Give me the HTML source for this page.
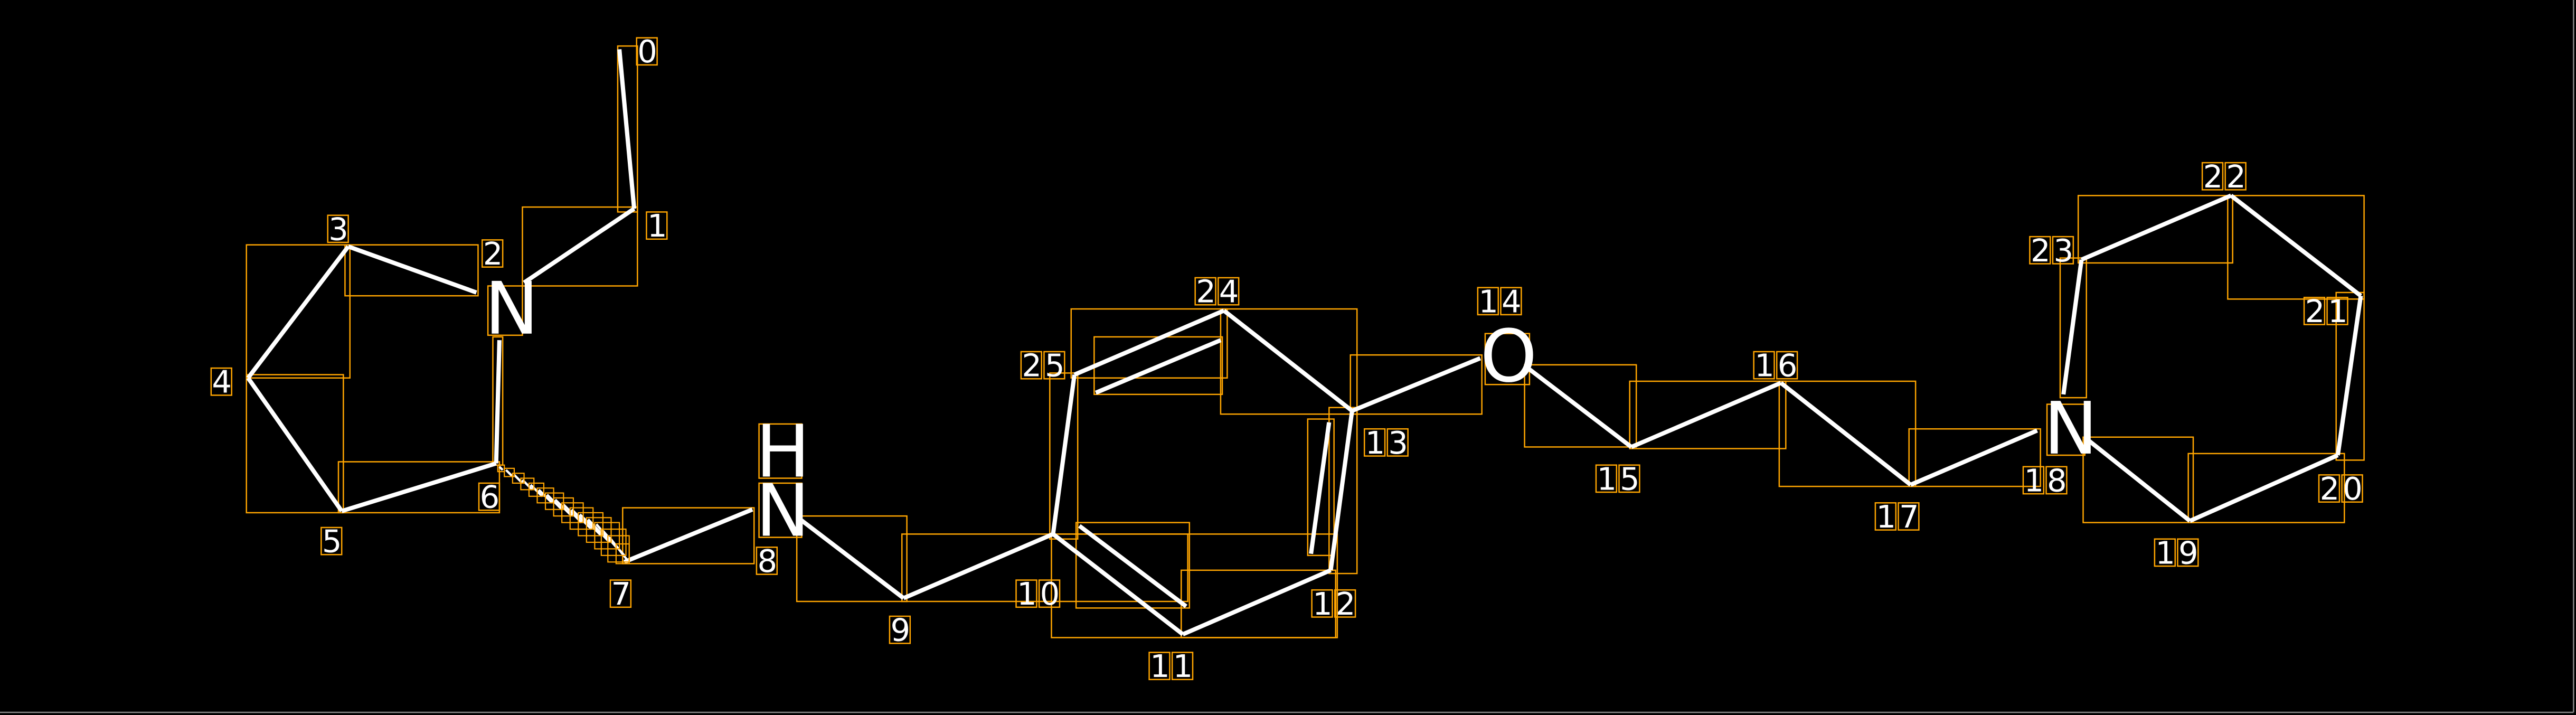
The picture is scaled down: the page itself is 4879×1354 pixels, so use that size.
<!DOCTYPE html>
<html><head><meta charset="utf-8"><style>
html,body{margin:0;padding:0;background:#000;}
svg{display:block;}
text{font-family:"DejaVu Sans","Liberation Sans",sans-serif;fill:#fff;}
</style></head><body>
<svg width="4879" height="1354" viewBox="0 0 1568 435.1" preserveAspectRatio="none" xmlns="http://www.w3.org/2000/svg">
<defs>
<g id="b"><rect x="-0.5" y="-15" width="12.5" height="16.5" fill="none" stroke="#FFA500" stroke-width="0.8"/></g>
</defs>
<rect x="0" y="0" width="1568" height="435.1" fill="#000"/>
<line x1="0" y1="433.5" x2="1566.5" y2="433.5" stroke="#888" stroke-width="0.8"/>
<line x1="1566.5" y1="0" x2="1566.5" y2="433.5" stroke="#888" stroke-width="0.8"/>
<g fill="none" stroke="#FFA500" stroke-width="0.8">
<rect x="376" y="28" width="12" height="101"/>
<rect x="318" y="126" width="70" height="48"/>
<rect x="210" y="149" width="81" height="31"/>
<rect x="150" y="149" width="63" height="81"/>
<rect x="150" y="228" width="59" height="84"/>
<rect x="300" y="205" width="6" height="78"/>
<rect x="206" y="281" width="98" height="31"/>
<rect x="379" y="309" width="80" height="34"/>
<rect x="485" y="314" width="67" height="52"/>
<rect x="549" y="325" width="174" height="41"/>
<rect x="640" y="325" width="174" height="63"/>
<rect x="655" y="318" width="69" height="52"/>
<rect x="719" y="347" width="94" height="41"/>
<rect x="809" y="248" width="17" height="101"/>
<rect x="796" y="255" width="16" height="83"/>
<rect x="743" y="188" width="83" height="64"/>
<rect x="652" y="188" width="95" height="42"/>
<rect x="666" y="205" width="78" height="35"/>
<rect x="639" y="227" width="17" height="101"/>
<rect x="822" y="216" width="80" height="36"/>
<rect x="928" y="222" width="68" height="50"/>
<rect x="992" y="232" width="95" height="41"/>
<rect x="1083" y="232" width="83" height="64"/>
<rect x="1162" y="261" width="80" height="35"/>
<rect x="1268" y="266" width="67" height="52"/>
<rect x="1332" y="276" width="95" height="42"/>
<rect x="1422" y="178" width="17" height="102"/>
<rect x="1356" y="119" width="83" height="63"/>
<rect x="1265" y="119" width="94" height="41"/>
<rect x="1254" y="157" width="16" height="85"/>
<rect x="297" y="174" width="21" height="30"/>
<rect x="462" y="258" width="26" height="33"/>
<rect x="462" y="294" width="26" height="33"/>
<rect x="904" y="203" width="27" height="31"/>
<rect x="1246" y="246" width="23" height="31"/>
</g>
<g stroke="#fff" stroke-width="2.6" stroke-linecap="butt" fill="none">
<line x1="377" y1="30" x2="386" y2="127"/>
<line x1="386" y1="127" x2="319" y2="172"/>
<line x1="212" y1="150" x2="290" y2="178"/>
<line x1="212" y1="150" x2="151" y2="230"/>
<line x1="151" y1="230" x2="208" y2="311"/>
<line x1="208" y1="311" x2="302" y2="282"/>
<line x1="302" y1="282" x2="304" y2="207"/>
<line x1="380" y1="342" x2="458" y2="310"/>
<line x1="487" y1="316" x2="550" y2="364"/>
<line x1="550" y1="364" x2="641" y2="325"/>
<line x1="641" y1="325" x2="720" y2="386"/>
<line x1="657" y1="320" x2="722" y2="369"/>
<line x1="720" y1="386" x2="810" y2="347"/>
<line x1="810" y1="347" x2="823" y2="250"/>
<line x1="798" y1="337" x2="809" y2="257"/>
<line x1="823" y1="250" x2="745" y2="189"/>
<line x1="745" y1="189" x2="654" y2="228"/>
<line x1="667" y1="239" x2="743" y2="207"/>
<line x1="654" y1="228" x2="641" y2="325"/>
<line x1="823" y1="250" x2="901" y2="218"/>
<line x1="930" y1="224" x2="993" y2="272"/>
<line x1="993" y1="272" x2="1084" y2="233"/>
<line x1="1084" y1="233" x2="1163" y2="295"/>
<line x1="1163" y1="295" x2="1240" y2="262"/>
<line x1="1270" y1="267" x2="1333" y2="317"/>
<line x1="1333" y1="317" x2="1423" y2="277"/>
<line x1="1423" y1="277" x2="1437" y2="180"/>
<line x1="1437" y1="180" x2="1358" y2="119"/>
<line x1="1358" y1="119" x2="1267" y2="158"/>
<line x1="1267" y1="158" x2="1256" y2="240"/>
</g>
<g stroke="#fff" stroke-width="1.4">
<line x1="304" y1="284" x2="306" y2="286"/>
<line x1="308" y1="286" x2="312" y2="290"/>
<line x1="313" y1="289" x2="318" y2="294"/>
<line x1="318" y1="292" x2="324" y2="298"/>
<line x1="323" y1="295" x2="330" y2="302"/>
<line x1="328" y1="298" x2="336" y2="306"/>
<line x1="333" y1="301" x2="342" y2="310"/>
<line x1="338" y1="304" x2="348" y2="314"/>
<line x1="343" y1="307" x2="354" y2="318"/>
<line x1="348" y1="310" x2="360" y2="322"/>
<line x1="353" y1="313" x2="366" y2="326"/>
<line x1="358" y1="316" x2="371" y2="330"/>
<line x1="363" y1="319" x2="376" y2="334"/>
<line x1="367" y1="323" x2="380" y2="338"/>
<line x1="371" y1="327" x2="382" y2="341"/>
</g>
<g fill="none" stroke="#FFA500" stroke-width="0.7">
<rect x="303" y="283" width="4" height="4"/><rect x="307" y="285" width="6" height="5"/>
<rect x="312" y="288" width="7" height="6"/><rect x="317" y="291" width="8" height="7"/>
<rect x="322" y="294" width="9" height="8"/><rect x="327" y="297" width="10" height="9"/>
<rect x="332" y="300" width="11" height="10"/><rect x="337" y="303" width="12" height="11"/>
<rect x="342" y="306" width="13" height="12"/><rect x="347" y="309" width="14" height="13"/>
<rect x="352" y="312" width="15" height="14"/><rect x="357" y="315" width="15" height="15"/>
<rect x="362" y="318" width="15" height="16"/><rect x="366" y="322" width="15" height="16"/>
<rect x="370" y="326" width="13" height="16"/><rect x="375" y="331" width="8" height="12"/>
</g>
<g font-size="44">
<text x="295" y="203">N</text>
<text x="460" y="290">H</text>
<text x="460" y="326">N</text>
<text x="901" y="232">O</text>
<text x="1244" y="276">N</text>
</g>
<g font-size="19">
<use href="#b" x="388" y="38"/><text x="388" y="38">0</text>
<use href="#b" x="394" y="144"/><text x="394" y="144">1</text>
<use href="#b" x="294" y="161"/><text x="294" y="161">2</text>
<use href="#b" x="200" y="146"/><text x="200" y="146">3</text>
<use href="#b" x="129" y="239"/><text x="129" y="239">4</text>
<use href="#b" x="196" y="336"/><text x="196" y="336">5</text>
<use href="#b" x="292" y="309"/><text x="292" y="309">6</text>
<use href="#b" x="372" y="368"/><text x="372" y="368">7</text>
<use href="#b" x="461" y="348"/><text x="461" y="348">8</text>
<use href="#b" x="542" y="390"/><text x="542" y="390">9</text>
<use href="#b" x="619" y="368"/><text x="619" y="368">1</text><use href="#b" x="633" y="368"/><text x="633" y="368">0</text>
<use href="#b" x="700" y="412"/><text x="700" y="412">1</text><use href="#b" x="714" y="412"/><text x="714" y="412">1</text>
<use href="#b" x="799" y="374"/><text x="799" y="374">1</text><use href="#b" x="813" y="374"/><text x="813" y="374">2</text>
<use href="#b" x="831" y="276"/><text x="831" y="276">1</text><use href="#b" x="845" y="276"/><text x="845" y="276">3</text>
<use href="#b" x="900" y="190"/><text x="900" y="190">1</text><use href="#b" x="914" y="190"/><text x="914" y="190">4</text>
<use href="#b" x="972" y="298"/><text x="972" y="298">1</text><use href="#b" x="986" y="298"/><text x="986" y="298">5</text>
<use href="#b" x="1068" y="229"/><text x="1068" y="229">1</text><use href="#b" x="1082" y="229"/><text x="1082" y="229">6</text>
<use href="#b" x="1142" y="321"/><text x="1142" y="321">1</text><use href="#b" x="1156" y="321"/><text x="1156" y="321">7</text>
<use href="#b" x="1232" y="299"/><text x="1232" y="299">1</text><use href="#b" x="1246" y="299"/><text x="1246" y="299">8</text>
<use href="#b" x="1312" y="343"/><text x="1312" y="343">1</text><use href="#b" x="1326" y="343"/><text x="1326" y="343">9</text>
<use href="#b" x="1412" y="304"/><text x="1412" y="304">2</text><use href="#b" x="1426" y="304"/><text x="1426" y="304">0</text>
<use href="#b" x="1403" y="196"/><text x="1403" y="196">2</text><use href="#b" x="1417" y="196"/><text x="1417" y="196">1</text>
<use href="#b" x="1341" y="114"/><text x="1341" y="114">2</text><use href="#b" x="1355" y="114"/><text x="1355" y="114">2</text>
<use href="#b" x="1236" y="159"/><text x="1236" y="159">2</text><use href="#b" x="1250" y="159"/><text x="1250" y="159">3</text>
<use href="#b" x="728" y="184"/><text x="728" y="184">2</text><use href="#b" x="742" y="184"/><text x="742" y="184">4</text>
<use href="#b" x="622" y="229"/><text x="622" y="229">2</text><use href="#b" x="636" y="229"/><text x="636" y="229">5</text>
</g>
</svg>
</body></html>
